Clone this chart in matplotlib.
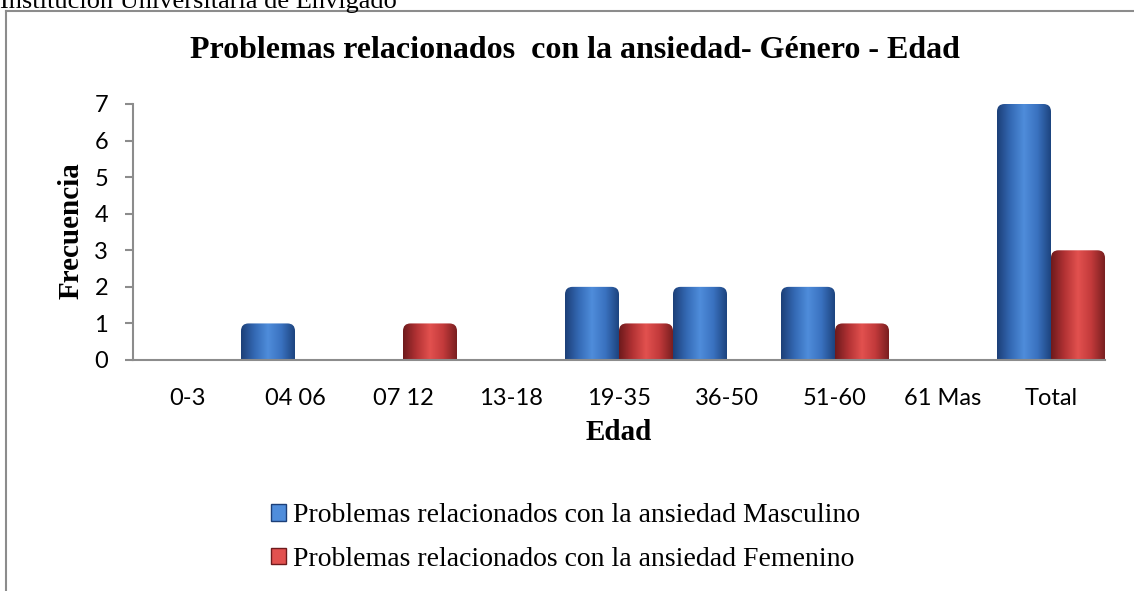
import numpy as np
import matplotlib
matplotlib.use("Agg")
import matplotlib.pyplot as plt
from matplotlib.patches import FancyBboxPatch, Patch
from matplotlib.colors import LinearSegmentedColormap
from matplotlib.lines import Line2D

# data
categorias = ['0-3', '04 06', '07 12', '13-18', '19-35', '36-50', '51-60', '61 Mas', 'Total']
masculino = [0, 1, 0, 0, 2, 2, 2, 0, 7]
femenino = [0, 0, 1, 0, 1, 0, 1, 0, 3]
serie_m = 'Problemas relacionados con la ansiedad Masculino'
serie_f = 'Problemas relacionados con la ansiedad Femenino'

azul = ['#1c3f78', '#3469b4', '#4f8ddb', '#3a72c0', '#1d447f']
rojo = ['#6e1a1c', '#b23234', '#e2514f', '#c23a3b', '#7a1f20']
cmap_azul = LinearSegmentedColormap.from_list('azul', azul)
cmap_rojo = LinearSegmentedColormap.from_list('rojo', rojo)

fig = plt.figure(figsize=(11.34, 5.91), dpi=100)
ax = fig.add_axes([133/1134, 1-360/591, (1105-133)/1134, (360-104)/591])

x = np.arange(len(categorias))
ancho = 0.5
bm = ax.bar(x - ancho/2, masculino, ancho, color='none', edgecolor='none')
bf = ax.bar(x + ancho/2, femenino, ancho, color='none', edgecolor='none')

ax.set_xlim(-0.5, len(categorias) - 0.5)
ax.set_ylim(0, 7)

# aspect between data units (px per x unit / px per y unit)
asp = (972/9) / (256/7)
grad = np.linspace(0, 1, 200).reshape(1, -1)

def cilindro(barras, cmap):
    for b in barras:
        h = b.get_height()
        if h <= 0:
            continue
        x0, w = b.get_x(), b.get_width()
        p = FancyBboxPatch((x0, -0.3), w, h + 0.3,
                           boxstyle='round,pad=0,rounding_size=0.07',
                           mutation_aspect=asp, facecolor='none',
                           edgecolor='none', transform=ax.transData)
        ax.add_patch(p)
        im = ax.imshow(grad, cmap=cmap, aspect='auto',
                       extent=(x0, x0 + w, 0, h), zorder=2)
        im.set_clip_path(p)

cilindro(bm, cmap_azul)
cilindro(bf, cmap_rojo)
ax.set_xlim(-0.5, len(categorias) - 0.5)
ax.set_ylim(0, 7)

for s in ['top', 'right']:
    ax.spines[s].set_visible(False)
for s in ['left', 'bottom']:
    ax.spines[s].set_color('#8c8c8c')
    ax.spines[s].set_linewidth(1.5)
ax.spines['bottom'].set_zorder(3)

ax.set_xticks(x)
ax.set_xticklabels(categorias, fontsize=17, family='Lato')
ax.tick_params(axis='x', length=0, pad=20)
ax.set_yticks(range(0, 8))
ax.set_yticklabels([str(v) for v in range(0, 8)], fontsize=17, family='Lato')
ax.tick_params(axis='y', length=6, color='#8c8c8c', width=1.5, pad=12)

ax.set_xlabel('Edad', fontsize=21, fontweight='bold', family='Liberation Serif', va='center')
ax.xaxis.set_label_coords(0.5, -(432-360)/256)
ax.set_ylabel('Frecuencia', fontsize=21, fontweight='bold', family='Liberation Serif', va='center')
ax.yaxis.set_label_coords((71-133)/972, (360-231)/256)

fig.text(575/1134, 1-50/591, 'Problemas relacionados  con la ansiedad- Género - Edad',
         ha='center', va='center', fontsize=23, fontweight='bold', family='Liberation Serif')
fig.text(0, 1-8/591, 'Institución Universitaria de Envigado', ha='left', va='baseline',
         fontsize=19, family='Liberation Serif')

# marco
fig.add_artist(Line2D([6/1134, 6/1134], [0, 1-11/591], color='#8c8c8c', lw=1.5,
                      transform=fig.transFigure))
fig.add_artist(Line2D([6/1134, 1], [1-11/591, 1-11/591], color='#8c8c8c', lw=1.5,
                      transform=fig.transFigure))

handles = [Patch(facecolor=azul[2], edgecolor=azul[0]),
           Patch(facecolor=rojo[2], edgecolor=rojo[0])]
fig.legend(handles, [serie_m, serie_f], loc='upper left', bbox_to_anchor=(271/1134, 1-503/591),
           frameon=False, prop={'family': 'Liberation Serif', 'size': 20},
           handlelength=0.55, handleheight=0.55, handletextpad=0.25, labelspacing=0.68,
           borderpad=0, borderaxespad=0)

fig.savefig('out.png', dpi=100)
